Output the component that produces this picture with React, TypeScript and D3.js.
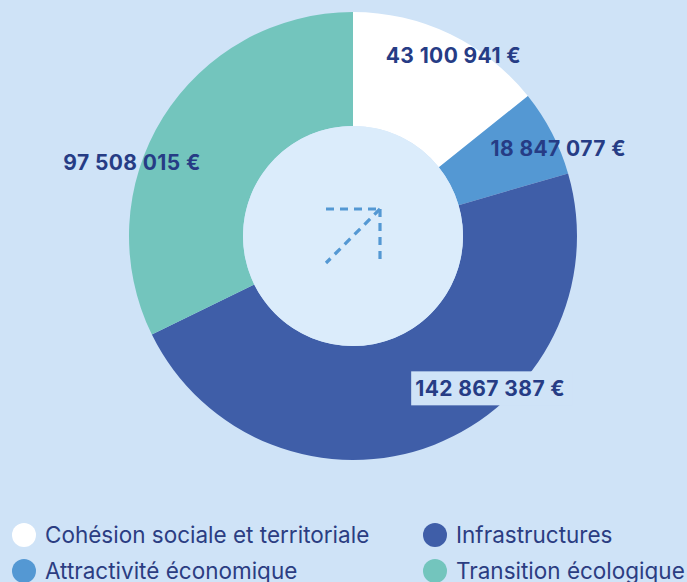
import React from "react";
import * as d3 from "d3";

const categories = [
  "Cohésion sociale et territoriale",
  "Attractivité économique",
  "Infrastructures",
  "Transition écologique",
];
const amounts = [43100941, 18847077, 142867387, 97508015];
const colors = ["#ffffff", "#5498d3", "#3f5ea8", "#73c5bd"];
// label placement: angle (deg, clockwise from top) and radius
const labelAngles = [29, 67, 138, 288.5];
const labelRadii = [207, 223, 205, 233];
const legendOrder = [0, 2, 1, 3];

const W = 687;
const H = 582;
const cx = 353;
const cy = 236;
const outerR = 224;
const innerR = 110;

const fmt = (v: number) => d3.format(",")(v).replace(/,/g, " ") + " €";

export default function App() {
  const pie = d3.pie<number>().value((d) => d).sort(null);
  const arcs = pie(amounts);
  const arc = d3.arc<d3.PieArcDatum<number>>().innerRadius(innerR).outerRadius(outerR);

  return (
    <svg
      width={W}
      height={H}
      style={{ position: "absolute", left: 0, top: 0, background: "#cfe3f7" }}
    >
      <rect width={W} height={H} fill="#cfe3f7" />
      <g transform={`translate(${cx},${cy})`}>
        {arcs.map((d, i) => (
          <path key={i} d={arc(d) || ""} fill={colors[i]} />
        ))}
        <circle r={innerR} fill="#dbecfb" />
        <g stroke="#5498d3" strokeWidth={3.2} fill="none" strokeDasharray="8 6">
          <line x1={-27} y1={-27} x2={27} y2={-27} />
          <line x1={27} y1={-27} x2={27} y2={27} />
          <line x1={27} y1={-27} x2={-27} y2={27} />
        </g>
        {arcs.map((d, i) => {
          const a = (labelAngles[i] * Math.PI) / 180;
          const x = Math.sin(a) * labelRadii[i];
          const y = -Math.cos(a) * labelRadii[i];
          return (
            <g key={i} transform={`translate(${x},${y})`}>
              {i === 2 && <rect x={-79} y={-17} width={161} height={34} fill="#cfe3f7" />}
              <text
                textAnchor="middle"
                dy="0.36em"
                fontFamily="Inter, 'Open Sans', sans-serif"
                fontWeight={700}
                fontSize={21}
                letterSpacing={0.4}
                fill="#263c85"
              >
                {fmt(amounts[i])}
              </text>
            </g>
          );
        })}
      </g>
      {legendOrder.map((ci, k) => {
        const x = k % 2 === 0 ? 24 : 435;
        const y = k < 2 ? 535 : 571;
        return (
          <g key={ci} transform={`translate(${x},${y})`}>
            <circle r={12} fill={colors[ci]} />
            <text
              x={21}
              dy="0.35em"
              fontFamily="Inter, Roboto, sans-serif"
              fontSize={22.5}
              fill="#2b3d82"
            >
              {categories[ci]}
            </text>
          </g>
        );
      })}
    </svg>
  );
}
